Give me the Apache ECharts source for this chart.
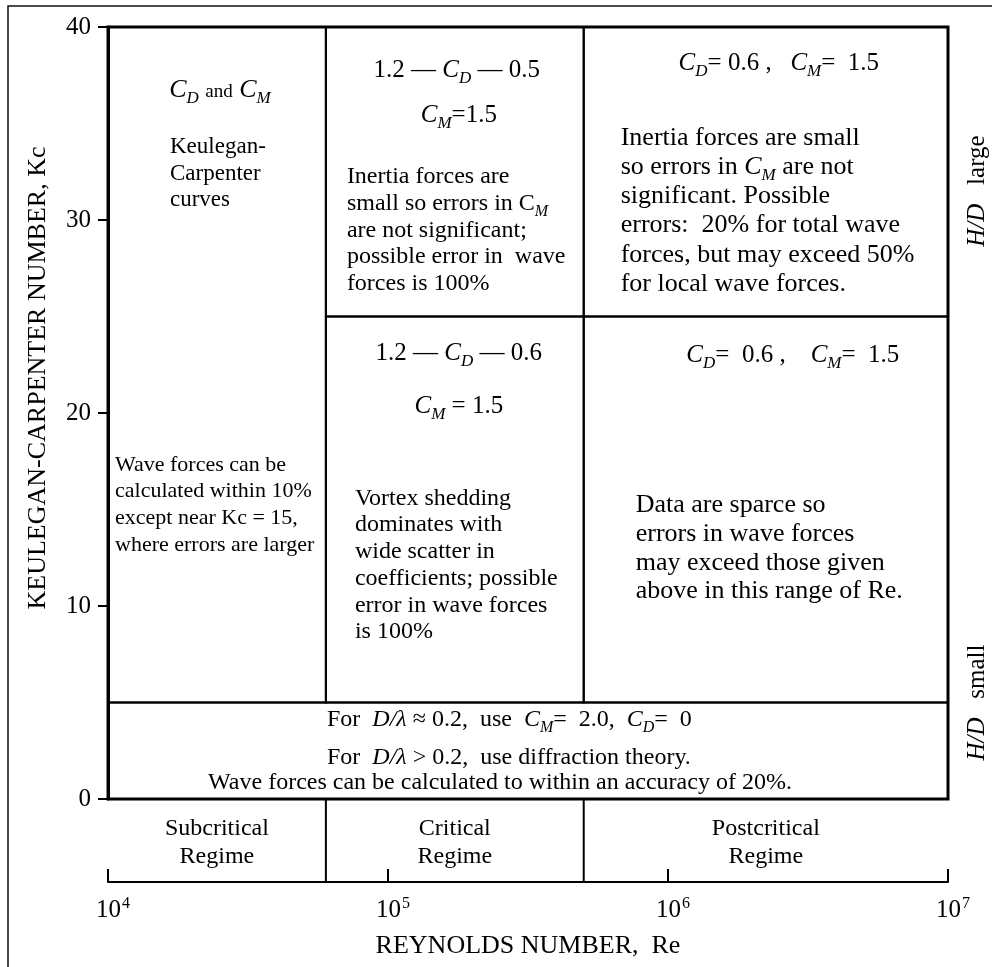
<!DOCTYPE html>
<html>
<head>
<meta charset="utf-8">
<script src="https://cdn.jsdelivr.net/npm/echarts@6.0.0/dist/echarts.min.js"></script>
<style>
html,body{margin:0;padding:0;background:#fff;}
#chart{width:992px;height:967px;}
</style>
</head>
<body>
<div id="chart"></div>
<script>
// ---------- data ----------
const reTicks = [1e4, 1e5, 1e6, 1e7];
const kcTicks = [0, 10, 20, 30, 40];
const regimeNames = ['Subcritical\nRegime', 'Critical\nRegime', 'Postcritical\nRegime'];
const regimeBounds = [1e4, 6e4, 5e5, 1e7];
const kcBounds = [0, 5, 25, 40];
// each cell: [Re from, Re to, Kc from, Kc to]
const cellBounds = [
  [regimeBounds[0], regimeBounds[1], kcBounds[1], kcBounds[3]],
  [regimeBounds[1], regimeBounds[2], kcBounds[2], kcBounds[3]],
  [regimeBounds[2], regimeBounds[3], kcBounds[2], kcBounds[3]],
  [regimeBounds[1], regimeBounds[2], kcBounds[1], kcBounds[2]],
  [regimeBounds[2], regimeBounds[3], kcBounds[1], kcBounds[2]],
  [regimeBounds[0], regimeBounds[3], kcBounds[0], kcBounds[1]]
];
const cellTexts = [
  ['{c|C}{s|D} {a|and} {c|C}{s|M}',
   'Keulegan-\nCarpenter\ncurves',
   'Wave forces can be\ncalculated within 10%\nexcept near Kc = 15,\nwhere errors are larger'],
  ['1.2 — {c|C}{s|D} — 0.5',
   '{c|C}{s|M}=1.5',
   'Inertia forces are\nsmall so errors in C{s|M}\nare not significant;\npossible error in  wave\nforces is 100%'],
  ['{c|C}{s|D}= 0.6 ,   {c|C}{s|M}=  1.5',
   'Inertia forces are small\nso errors in {c|C}{s|M} are not\nsignificant. Possible\nerrors:  20% for total wave\nforces, but may exceed 50%\nfor local wave forces.'],
  ['1.2 — {c|C}{s|D} — 0.6',
   '{c|C}{s|M} = 1.5',
   'Vortex shedding\ndominates with\nwide scatter in\ncoefficients; possible\nerror in wave forces\nis 100%'],
  ['{c|C}{s|D}=  0.6 ,    {c|C}{s|M}=  1.5',
   'Data are sparce so\nerrors in wave forces\nmay exceed those given\nabove in this range of Re.'],
  ['For  {i|D/λ} ≈ 0.2,  use  {c|C}{s|M}=  2.0,  {c|C}{s|D}=  0',
   'For  {i|D/λ} > 0.2,  use diffraction theory.',
   'Wave forces can be calculated to within an accuracy of 20%.']
];
const hdLabels = ['large', 'small'];
const hdKc = [31.5, 5];

// ---------- style / layout ----------
const SERIF = '"Liberation Serif", "Times New Roman", serif';
const cellLayout = [
  [{al:'center', dx:3, dy:63, size:26, lh:30}, {al:'left', dx:62, dy:120, size:23, lh:26.7}, {al:'left', dx:7, dy:438, size:22, lh:26.7}],
  [{al:'center', dx:2, dy:43, size:25, lh:30}, {al:'center', dx:4, dy:88, size:25, lh:30}, {al:'left', dx:21, dy:150, size:24, lh:26.7}],
  [{al:'center', dx:13, dy:36, size:25, lh:30}, {al:'left', dx:37, dy:111, size:26, lh:29.2}],
  [{al:'center', dx:4, dy:37, size:25, lh:30}, {al:'center', dx:4, dy:90, size:25, lh:30}, {al:'left', dx:29, dy:182, size:24, lh:26.7}],
  [{al:'center', dx:27, dy:39, size:25, lh:30}, {al:'left', dx:52, dy:189, size:26, lh:28.6}],
  [{al:'left', dx:219, fy:0.18, size:24, lh:28}, {al:'left', dx:219, fy:0.57, size:24, lh:28}, {al:'center', dx:-28, fy:0.835, size:24, lh:28}]
];

function richFor(size, lh) {
  const sub = Math.round(size * 0.66);
  const asz = Math.round(size * 0.74);
  return {
    c: {fontStyle:'italic', fontSize:size, fontFamily:SERIF, fill:'#000', lineHeight:lh},
    i: {fontStyle:'italic', fontSize:size, fontFamily:SERIF, fill:'#000', lineHeight:lh},
    a: {fontSize:asz, fontFamily:SERIF, fill:'#000', lineHeight:asz, verticalAlign:'top',
        padding:[Math.max(0, Math.round(lh/2 + 0.33*(size-asz) - asz/2)), 0, 0, 0]},
    s: {fontStyle:'italic', fontSize:sub, fontFamily:SERIF, fill:'#000', lineHeight:sub, verticalAlign:'top',
        padding:[Math.max(0, Math.round(lh/2 + 0.32*size - sub/2)), 0, 0, 0]}
  };
}

function textBlock(text, x, yCenterFirst, L) {
  return {
    type:'text', x:x, y:yCenterFirst - L.lh/2,
    style:{text:text, fontSize:L.size, fontFamily:SERIF, fill:'#000', lineHeight:L.lh,
           align:L.al, verticalAlign:'top', rich:richFor(L.size, L.lh)}
  };
}

const chart = echarts.init(document.getElementById('chart'), null, {renderer:'canvas'});

const option = {
  animation:false,
  backgroundColor:'#fff',
  graphic:[{type:'rect', shape:{x:8, y:6, width:1100, height:1100},
            style:{fill:'none', stroke:'#111', lineWidth:1.5}, z:-1}],
  grid:[
    {left:108, right:44, top:27, height:772, show:true, borderColor:'#000', borderWidth:3,
     backgroundColor:'transparent', containLabel:false, outerBoundsMode:'none'},
    {left:108, right:44, top:799, height:83, show:false, containLabel:false, outerBoundsMode:'none'}
  ],
  xAxis:[
    {type:'log', gridIndex:0, logBase:10, min:reTicks[0], max:reTicks[reTicks.length-1], show:false},
    {type:'log', gridIndex:1, logBase:10, min:reTicks[0], max:reTicks[reTicks.length-1], position:'bottom',
     axisLine:{show:true, onZero:false, lineStyle:{color:'#000', width:2}},
     axisTick:{show:true, inside:true, length:13, lineStyle:{color:'#000', width:2}},
     splitLine:{show:false}, minorTick:{show:false},
     axisLabel:{show:true, margin:14, showMinLabel:true, showMaxLabel:true, padding:[0,0,0,10],
       formatter:function(v){ return '{b|10}{p|' + Math.round(Math.log10(v)) + '}'; },
       rich:{b:{fontSize:25, fontFamily:SERIF, color:'#000', lineHeight:28},
             p:{fontSize:16, fontFamily:SERIF, color:'#000', lineHeight:16, verticalAlign:'top', padding:[0,0,0,1]}}},
     name:'REYNOLDS NUMBER,  Re', nameLocation:'middle', nameGap:51,
     nameTextStyle:{fontSize:26, fontFamily:SERIF, color:'#000'}}
  ],
  yAxis:[
    {type:'value', gridIndex:0, min:kcTicks[0], max:kcTicks[kcTicks.length-1], interval:kcTicks[1]-kcTicks[0],
     axisLine:{show:true, lineStyle:{color:'#000', width:3}},
     axisTick:{show:true, inside:false, length:10, lineStyle:{color:'#000', width:2}},
     splitLine:{show:false},
     axisLabel:{fontSize:25, fontFamily:SERIF, color:'#000', margin:17},
     name:'KEULEGAN-CARPENTER NUMBER, Kc', nameLocation:'middle', nameRotate:90, nameGap:57,
     nameTextStyle:{fontSize:26, fontFamily:SERIF, color:'#000', padding:[0,0,0,70]}},
    {type:'value', gridIndex:1, min:0, max:1, show:false}
  ],
  series:[
    { // cells
      type:'custom', xAxisIndex:0, yAxisIndex:0, coordinateSystem:'cartesian2d', clip:false,
      data:cellBounds, encode:{x:[0,1], y:[2,3]},
      renderItem:function(params, api){
        const i = params.dataIndex;
        const tl = api.coord([api.value(0), api.value(3)]);
        const br = api.coord([api.value(1), api.value(2)]);
        const w = br[0]-tl[0], h = br[1]-tl[1];
        const children = [{type:'rect', shape:{x:tl[0], y:tl[1], width:w, height:h},
                           style:{fill:'none', stroke:'#000', lineWidth:2}}];
        cellLayout[i].forEach(function(L, k){
          const x = L.al === 'center' ? tl[0] + w/2 + L.dx : tl[0] + L.dx;
          const y = L.fy != null ? tl[1] + L.fy*h : tl[1] + L.dy;
          children.push(textBlock(cellTexts[i][k], x, y, L));
        });
        return {type:'group', children:children};
      }
    },
    { // H/D side labels
      type:'custom', xAxisIndex:0, yAxisIndex:0, coordinateSystem:'cartesian2d', clip:false,
      data:hdKc.map(function(k){ return [reTicks[reTicks.length-1], k]; }), encode:{x:0, y:1},
      renderItem:function(params, api){
        const p = api.coord([api.value(0), api.value(1)]);
        return {type:'text', x:p[0]+29, y:p[1], rotation:Math.PI/2,
          style:{text:'{i|H/D}   ' + hdLabels[params.dataIndex], fontSize:25, fontFamily:SERIF, fill:'#000',
                 align:'center', verticalAlign:'middle',
                 rich:{i:{fontStyle:'italic', fontSize:25, fontFamily:SERIF, fill:'#000'}}}};
      }
    },
    { // regime dividers below the plot
      type:'custom', xAxisIndex:1, yAxisIndex:1, coordinateSystem:'cartesian2d', clip:false,
      data:regimeBounds.slice(1, regimeBounds.length-1).map(function(v){ return [v, 0]; }), encode:{x:0, y:1},
      renderItem:function(params, api){
        const a = api.coord([api.value(0), 1]);
        const b = api.coord([api.value(0), 0]);
        return {type:'line', shape:{x1:a[0], y1:a[1], x2:b[0], y2:b[1]}, style:{stroke:'#000', lineWidth:2}};
      }
    },
    { // regime names
      type:'custom', xAxisIndex:1, yAxisIndex:1, coordinateSystem:'cartesian2d', clip:false,
      data:regimeNames.map(function(n, i){ return [regimeBounds[i], regimeBounds[i+1]]; }), encode:{x:[0,1]},
      renderItem:function(params, api){
        const a = api.coord([api.value(0), 0.5]);
        const b = api.coord([api.value(1), 0.5]);
        return {type:'text', x:(a[0]+b[0])/2, y:a[1]+2,
          style:{text:regimeNames[params.dataIndex], fontSize:24, fontFamily:SERIF, fill:'#000',
                 lineHeight:28, align:'center', verticalAlign:'middle'}};
      }
    }
  ]
};
chart.setOption(option);
</script>
</body>
</html>
